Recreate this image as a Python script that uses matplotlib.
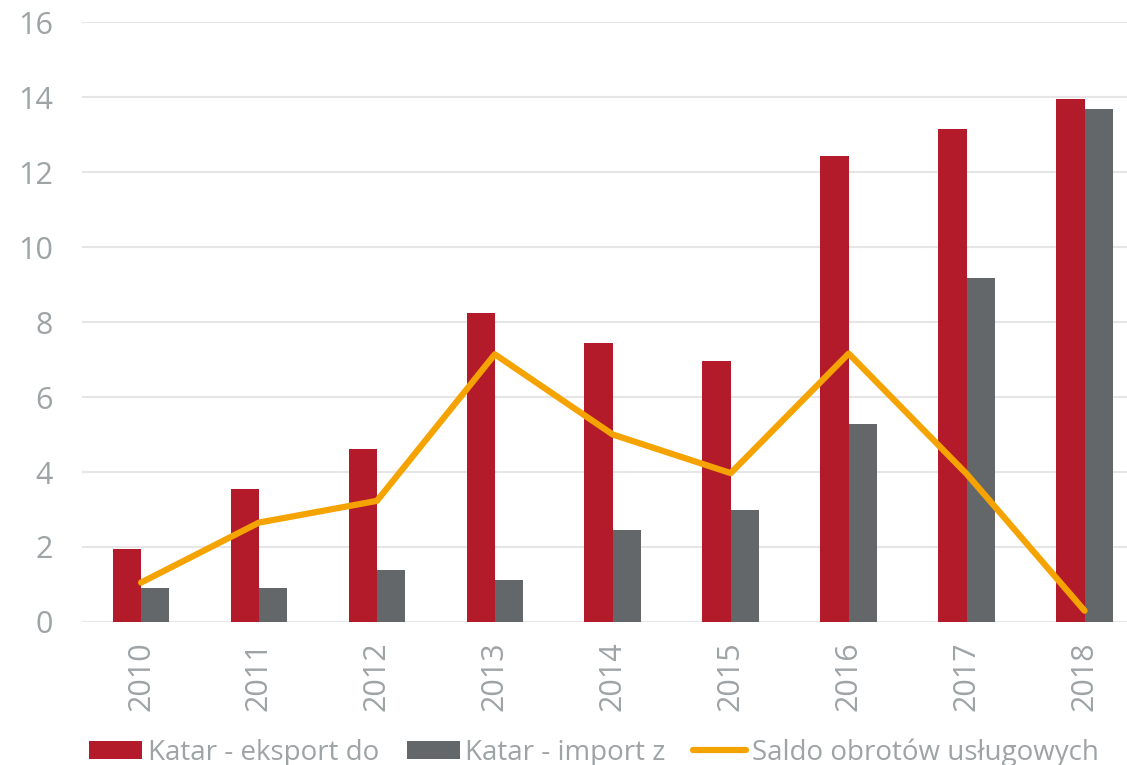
import numpy as np
import matplotlib.pyplot as plt

years = ["2010", "2011", "2012", "2013", "2014", "2015", "2016", "2017", "2018"]
eksport = [1.95, 3.55, 4.61, 8.24, 7.44, 6.96, 12.43, 13.15, 13.95]
import_z = [0.91, 0.91, 1.39, 1.12, 2.45, 2.99, 5.28, 9.17, 13.68]
saldo = [1.05, 2.65, 3.23, 7.14, 5.0, 3.97, 7.16, 3.95, 0.3]

plt.rcParams['font.family'] = ['Open Sans', 'DejaVu Sans']
txt = "#9ea3a6"

fig = plt.figure(figsize=(11.27, 7.65), dpi=100)
ax = fig.add_axes([0.0728, 0.187, 0.9272, 0.784])

x = np.arange(len(years))
w = 0.24
b1 = ax.bar(x - w/2, eksport, w, color="#b31b2a", label="Katar - eksport do", zorder=2)
b2 = ax.bar(x + w/2, import_z, w, color="#636769", label="Katar - import z", zorder=2)
l1, = ax.plot(x, saldo, color="#f5a300", lw=4.5, solid_capstyle="round",
              label="Saldo obrotów usługowych", zorder=3)

ax.set_xlim(-0.5, 8.36)
ax.set_ylim(0, 16)
ax.set_yticks(range(0, 17, 2))
ax.set_xticks(x)
ax.set_xticklabels(years, rotation=90)
ax.grid(axis="y", color="#e6e6e6", lw=1.5, zorder=0)
for s in ax.spines.values():
    s.set_visible(False)
ax.tick_params(length=0, labelsize=22, labelcolor=txt)
ax.tick_params(axis="y", pad=21)
ax.tick_params(axis="x", pad=14)

# legend order as in the original: bars first, then the line
fig.legend([b1, b2, l1], [b1.get_label(), b2.get_label(), l1.get_label()],
           loc="lower center", bbox_to_anchor=(0.527, -0.035), ncol=3,
           frameon=False, fontsize=20, labelcolor=txt, handlelength=1.9,
           handletextpad=0.2, columnspacing=1.0, handleheight=0.65)

fig.savefig("out.png", dpi=100)
